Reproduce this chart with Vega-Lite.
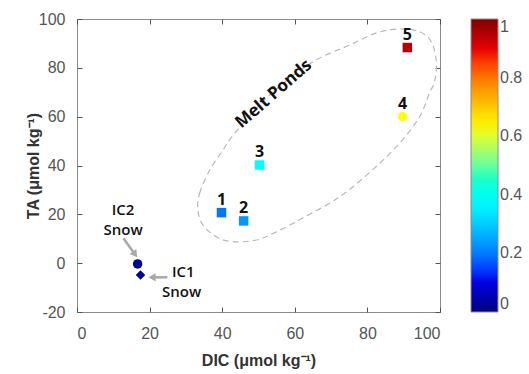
{
  "$schema": "https://vega.github.io/schema/vega-lite/v6.json",
  "width": 363,
  "height": 293,
  "autosize": "none",
  "padding": {"left": 77, "top": 19, "right": 89, "bottom": 62},
  "background": "white",
  "config": {
    "view": {"stroke": "#8c8c8c", "strokeWidth": 1},
    "font": "Liberation Sans",
    "axis": {"grid": false, "zindex": 1, "domain": false, "offset": -5, "tickColor": "#555555", "ticks": true, "tickSize": 5, "tickWidth": 1, "labelFontSize": 16, "labelColor": "#555555", "titleFontSize": 16, "titleFontWeight": "bold", "titleColor": "#333333", "labelFont": "Liberation Sans", "titleFont": "Liberation Sans", "labelExpr": "datum.value + ''"},
    "legend": {"gradientLength": 293, "gradientThickness": 27, "labelFontSize": 16, "labelColor": "#555555", "labelFont": "Liberation Sans", "gradientStrokeColor": "#8c8c8c", "gradientStrokeWidth": 1, "labelOffset": 7}
  },
  "datasets": {
    "pts": [
      {"dic": 39.8, "ta": 20.7, "val": 0.195, "label": "1", "kind": "square"},
      {"dic": 45.9, "ta": 17.3, "val": 0.235, "label": "2", "kind": "square"},
      {"dic": 50.3, "ta": 40.2, "val": 0.38, "label": "3", "kind": "square"},
      {"dic": 89.7, "ta": 60.0, "val": 0.62, "label": "4", "kind": "circle"},
      {"dic": 91.0, "ta": 88.3, "val": 0.94, "label": "5", "kind": "square"},
      {"dic": 16.7, "ta": -0.3, "val": 0.02, "label": "", "kind": "circle"},
      {"dic": 17.5, "ta": -4.8, "val": 0.02, "label": "", "kind": "diamond"}
    ],
    "ellipse": [
      {"ord": 1, "dic": 33.3, "ta": 21.8},
      {"ord": 2, "dic": 33.8, "ta": 28.7},
      {"ord": 3, "dic": 36.6, "ta": 38.2},
      {"ord": 4, "dic": 40.2, "ta": 46.3},
      {"ord": 5, "dic": 43.5, "ta": 53.3},
      {"ord": 6, "dic": 53.1, "ta": 68.9},
      {"ord": 7, "dic": 64.9, "ta": 82.4},
      {"ord": 8, "dic": 75.1, "ta": 89.3},
      {"ord": 9, "dic": 82.5, "ta": 94.3},
      {"ord": 10, "dic": 88.9, "ta": 95.9},
      {"ord": 11, "dic": 94.4, "ta": 94.8},
      {"ord": 12, "dic": 97.6, "ta": 90.7},
      {"ord": 13, "dic": 99.0, "ta": 82.5},
      {"ord": 14, "dic": 98.5, "ta": 74.3},
      {"ord": 15, "dic": 97.1, "ta": 69.7},
      {"ord": 16, "dic": 94.4, "ta": 60.0},
      {"ord": 17, "dic": 88.9, "ta": 49.2},
      {"ord": 18, "dic": 81.4, "ta": 38.2},
      {"ord": 19, "dic": 72.4, "ta": 27.2},
      {"ord": 20, "dic": 62.2, "ta": 18.5},
      {"ord": 21, "dic": 55.0, "ta": 12.9},
      {"ord": 22, "dic": 49.5, "ta": 9.5},
      {"ord": 23, "dic": 42.9, "ta": 8.8},
      {"ord": 24, "dic": 38.5, "ta": 10.7},
      {"ord": 25, "dic": 34.7, "ta": 15.6}
    ],
    "arrows": [
      {"id": "a1", "x": 12.8, "y": 10.2, "x2": 15.8, "y2": 4.0},
      {"id": "a2", "x": 24.9, "y": -5.8, "x2": 21.0, "y2": -5.8}
    ],
    "notes": [
      {"dic": 12.7, "ta": 21.6, "txt": "IC2"},
      {"dic": 12.7, "ta": 13.4, "txt": "Snow"},
      {"dic": 29.3, "ta": -3.7, "txt": "IC1"},
      {"dic": 28.8, "ta": -11.9, "txt": "Snow"}
    ],
    "title": [
      {"dic": 54.2, "ta": 69.3, "txt": "Melt Ponds"}
    ]
  },
  "resolve": {"axis": {"x": "independent", "y": "independent"}},
  "layer": [
    {
      "data": {"name": "ellipse"},
      "mark": {"type": "line", "interpolate": "cardinal-closed", "strokeDash": [6, 4], "color": "#b8b8b8", "strokeWidth": 1.2},
      "encoding": {
        "x": {"field": "dic", "type": "quantitative", "scale": {"domain": [0, 100], "nice": false}, "axis": {"orient": "top", "labels": false, "title": null, "values": [0, 20, 40, 60, 80, 100]}},
        "y": {"field": "ta", "type": "quantitative", "scale": {"domain": [-20, 100], "nice": false}, "axis": {"orient": "right", "labels": false, "title": null, "values": [-20, 0, 20, 40, 60, 80, 100]}},
        "order": {"field": "ord", "type": "quantitative"}
      }
    },
    {
      "data": {"name": "arrows"},
      "mark": {"type": "rule", "color": "#a8a8a8", "strokeWidth": 2.5},
      "encoding": {
        "x": {"field": "x", "type": "quantitative", "axis": null},
        "y": {"field": "y", "type": "quantitative", "axis": null},
        "x2": {"field": "x2"},
        "y2": {"field": "y2"}
      }
    },
    {
      "data": {"name": "arrows"},
      "transform": [{"filter": "datum.id == 'a1'"}],
      "mark": {"type": "point", "shape": "triangle", "filled": true, "color": "#a8a8a8", "opacity": 1, "size": 70, "angle": 144},
      "encoding": {
        "x": {"field": "x2", "type": "quantitative", "axis": null},
        "y": {"field": "y2", "type": "quantitative", "axis": null}
      }
    },
    {
      "data": {"name": "arrows"},
      "transform": [{"filter": "datum.id == 'a2'"}],
      "mark": {"type": "point", "shape": "triangle", "filled": true, "color": "#a8a8a8", "opacity": 1, "size": 70, "angle": 270},
      "encoding": {
        "x": {"field": "x2", "type": "quantitative", "axis": null},
        "y": {"field": "y2", "type": "quantitative", "axis": null}
      }
    },
    {
      "data": {"name": "pts"},
      "mark": {"type": "point", "filled": true, "opacity": 1, "size": 90},
      "encoding": {
        "x": {"field": "dic", "type": "quantitative", "axis": {"orient": "bottom", "title": "DIC (μmol kg⁻¹)", "values": [0, 20, 40, 60, 80, 100], "labelPadding": 13, "titlePadding": 11}},
        "y": {"field": "ta", "type": "quantitative", "axis": {"orient": "left", "title": "TA (μmol kg⁻¹)", "values": [-20, 0, 20, 40, 60, 80, 100], "labelPadding": 12, "titlePadding": -3}},
        "shape": {"field": "kind", "type": "nominal", "scale": {"domain": ["square", "circle", "diamond"], "range": ["square", "circle", "diamond"]}, "legend": null},
        "color": {"field": "val", "type": "quantitative", "scale": {"domain": [0, 0.125, 0.375, 0.625, 0.875, 1], "range": ["#000080", "#0000ff", "#00ffff", "#ffff00", "#ff0000", "#800000"]}, "legend": {"orient": "none", "legendX": 394, "legendY": 0, "title": null, "values": [0, 0.2, 0.4, 0.6, 0.8, 1], "format": "~g", "labelBaseline": "middle", "direction": "vertical"}}
      }
    },
    {
      "data": {"name": "pts"},
      "mark": {"type": "text", "dy": -13, "font": "Open Sans", "fontWeight": "bold", "fontSize": 16, "color": "#111111"},
      "encoding": {
        "x": {"field": "dic", "type": "quantitative", "axis": null},
        "y": {"field": "ta", "type": "quantitative", "axis": null},
        "text": {"field": "label"}
      }
    },
    {
      "data": {"name": "notes"},
      "mark": {"type": "text", "font": "Open Sans", "fontWeight": 600, "fontSize": 15, "color": "#111111", "baseline": "middle", "align": "center"},
      "encoding": {
        "x": {"field": "dic", "type": "quantitative", "axis": null},
        "y": {"field": "ta", "type": "quantitative", "axis": null},
        "text": {"field": "txt"}
      }
    },
    {
      "data": {"name": "title"},
      "mark": {"type": "text", "font": "Open Sans", "fontWeight": "bold", "fontSize": 17, "color": "#111111", "baseline": "middle", "align": "center", "angle": 319},
      "encoding": {
        "x": {"field": "dic", "type": "quantitative", "axis": null},
        "y": {"field": "ta", "type": "quantitative", "axis": null},
        "text": {"field": "txt"}
      }
    }
  ]
}
